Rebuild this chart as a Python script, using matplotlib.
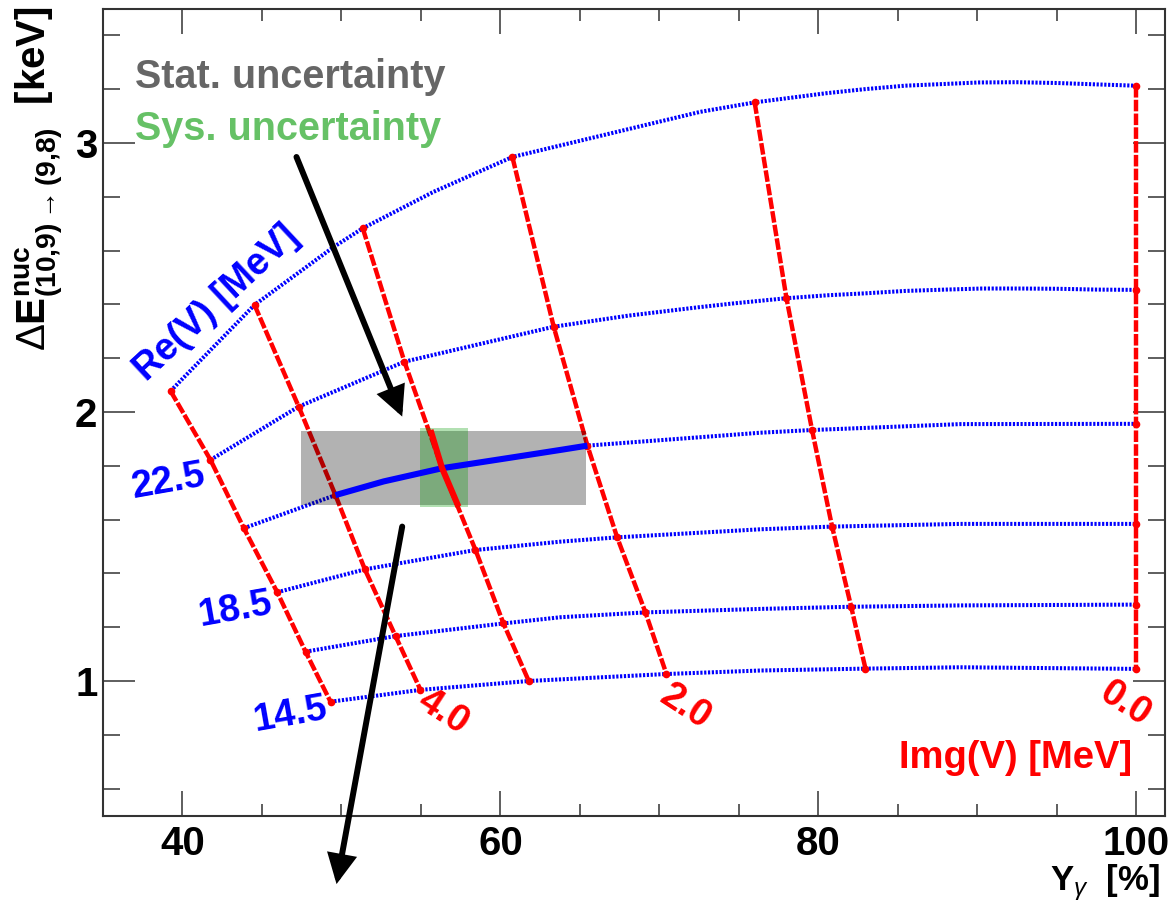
import numpy as np
import matplotlib
matplotlib.use("Agg")
import matplotlib.pyplot as plt
from matplotlib.ticker import MultipleLocator, FixedLocator
from matplotlib.patches import Rectangle, FancyArrowPatch

plt.rcParams['font.family'] = ['Liberation Sans', 'DejaVu Sans']
plt.rcParams['mathtext.fontset'] = 'custom'
plt.rcParams['mathtext.rm'] = 'Liberation Sans'
plt.rcParams['mathtext.it'] = 'Liberation Sans:italic'
plt.rcParams['mathtext.bf'] = 'Liberation Sans:bold'

# ---------------- data ----------------
re_values = [24.5, 22.5, 20.5, 18.5, 16.5, 14.5]          # Re(V) [MeV], one blue curve each
img_values = [5.0, 4.0, 3.0, 2.0, 1.0, 0.0]               # Img(V) [MeV], one red curve each

# grid crossing points: rows = Img value, columns = Re value
grid_x = [
    [39.25, 41.76, 43.86, 45.96, 47.74, 49.31],   # Img 5
    [44.53, 47.31, 49.62, 51.47, 53.40, 54.97],   # Img 4
    [51.34, 53.96, 56.33, 58.43, 60.19, 61.78],   # Img 3
    [60.75, 63.35, 65.47, 67.34, 69.12, 70.44],   # Img 2
    [75.99, 77.99, 79.60, 80.86, 82.06, 82.96],   # Img 1
    [100.0, 100.0, 100.0, 100.0, 100.0, 100.0],   # Img 0
]
grid_y = [
    [2.078, 1.822, 1.568, 1.330, 1.109, 0.923],
    [2.398, 2.020, 1.691, 1.415, 1.167, 0.967],
    [2.683, 2.187, 1.791, 1.487, 1.214, 1.000],
    [2.948, 2.317, 1.875, 1.534, 1.255, 1.026],
    [3.151, 2.423, 1.933, 1.574, 1.276, 1.046],
    [3.213, 2.454, 1.956, 1.584, 1.284, 1.045],
]

# additional points read along the blue (constant Re) curves
re245_x = [49.52, 55.81, 72.58, 80.48, 82.89, 85.44, 88.93, 90.06, 92.45, 95.03, 97.42]
re245_y = [2.614, 2.819, 3.116, 3.185, 3.200, 3.213, 3.222, 3.225, 3.226, 3.223, 3.218]
re225_x = [68.02, 72.40, 74.71, 80.59, 82.90, 85.44, 87.97, 90.28, 92.59, 95.13, 97.55]
re225_y = [2.358, 2.389, 2.404, 2.434, 2.441, 2.450, 2.455, 2.459, 2.459, 2.458, 2.455]
re205_x = [52.66, 61.05, 63.77, 76.35, 88.93]
re205_y = [1.742, 1.834, 1.859, 1.923, 1.955]
re185_x = [63.77, 76.35, 88.93]
re185_y = [1.518, 1.564, 1.584]
re165_x = [63.77, 76.35, 88.93]
re165_y = [1.237, 1.268, 1.281]
re145_x = [63.77, 76.35, 88.93]
re145_y = [1.006, 1.039, 1.051]
extra_x = [re245_x, re225_x, re205_x, re185_x, re165_x, re145_x]
extra_y = [re245_y, re225_y, re205_y, re185_y, re165_y, re145_y]

# best-fit band along Img = 3 (bold red segment)
fit_img_x = [55.60, 56.33, 57.36]
fit_img_y = [1.933, 1.791, 1.648]

# uncertainty boxes
stat_box_x = [47.48, 65.39]
stat_box_y = [1.653, 1.930]
sys_box_x = [54.97, 57.94]
sys_box_y = [1.646, 1.942]

# arrows (start, tip)
arrow1 = [(47.17, 2.948), (53.82, 1.983)]
arrow2 = [(53.82, 1.574), (49.69, 0.245)]

re_labels = ["22.5", "18.5", "14.5"]
re_label_pos = [(39.13, 1.741), (43.33, 1.264), (46.79, 0.874)]
img_labels = ["4.0", "2.0", "0.0"]
img_label_pos = [(56.42, 0.885), (71.64, 0.903), (99.31, 0.914)]

# ---------------- figure ----------------
W, H = 1172, 907
fig = plt.figure(figsize=(W / 100, H / 100), dpi=100)
ax = fig.add_axes([103 / W, 1 - 815.5 / H, (1165 - 103) / W, (815.5 - 8.5) / H])
ax.set_xlim(35, 101.8)
ax.set_ylim(0.5, 3.5)

BLUE = (0, 0, 1)
RED = (1, 0, 0)

gx = np.array(grid_x)
gy = np.array(grid_y)

# blue dotted curves of constant Re
for j, re in enumerate(re_values):
    xs = np.concatenate([gx[:, j], extra_x[j]])
    ys = np.concatenate([gy[:, j], extra_y[j]])
    order = np.argsort(xs)
    ax.plot(xs[order], ys[order], color=BLUE, lw=2.9, linestyle=(0, (0.55, 0.4)),
            zorder=2, dash_capstyle='butt')

# red dashed curves of constant Img
for i, im in enumerate(img_values):
    ax.plot(gx[i], gy[i], color=RED, lw=3.2, linestyle=(0, (2.6, 0.5)), zorder=2.5,
            marker='o', markersize=5.5, markeredgewidth=0, dash_capstyle='butt')

# uncertainty boxes
ax.add_patch(Rectangle((stat_box_x[0], stat_box_y[0]), stat_box_x[1] - stat_box_x[0],
                       stat_box_y[1] - stat_box_y[0], facecolor='black', alpha=0.3,
                       edgecolor='none', zorder=3))
ax.add_patch(Rectangle((sys_box_x[0], sys_box_y[0]), sys_box_x[1] - sys_box_x[0],
                       sys_box_y[1] - sys_box_y[0], facecolor=(0, 0.6, 0), alpha=0.3,
                       edgecolor='none', zorder=4))

# solid blue: Re = 20.5 between Img = 4 and Img = 2
j = re_values.index(20.5)
xs = np.concatenate([gx[:, j], extra_x[j]])
ys = np.concatenate([gy[:, j], extra_y[j]])
order = np.argsort(xs)
xs, ys = xs[order], ys[order]
lo = gx[img_values.index(4.0), j]
hi = gx[img_values.index(2.0), j]
sel = (xs >= lo) & (xs <= hi)
ax.plot(xs[sel], ys[sel], color=BLUE, lw=4.4, zorder=5, solid_capstyle='butt',
        solid_joinstyle='round')

# bold red segment along Img = 3
ax.plot(fit_img_x, fit_img_y, color=RED, lw=4.4, zorder=5, solid_capstyle='butt')

# arrows
for (p0, p1) in (arrow1, arrow2):
    arr = FancyArrowPatch(p0, p1, arrowstyle='-|>,head_length=15,head_width=7.5',
                          mutation_scale=1, lw=4.3, color='black', shrinkA=0, shrinkB=0,
                          zorder=6, clip_on=False, joinstyle='miter')
    ax.add_patch(arr)

# texts
ax.text(37.04, 3.204, "Stat. uncertainty", color=(0, 0, 0, 0.6), fontsize=28.5,
        fontweight='bold', ha='left', va='baseline', zorder=7)
ax.text(37.04, 3.011, "Sys. uncertainty", color=(0, 0.6, 0, 0.6), fontsize=28.5,
        fontweight='bold', ha='left', va='baseline', zorder=7)
ax.text(42.13, 2.404, "Re(V) [MeV]", color=BLUE, fontsize=27, fontweight='bold',
        rotation=43, ha='center', va='center', rotation_mode='anchor', zorder=7)
for lab, (px, py) in zip(re_labels, re_label_pos):
    ax.text(px, py, lab, color=BLUE, fontsize=27.5, fontweight='bold', rotation=10,
            ha='center', va='center', rotation_mode='anchor', zorder=7)
for lab, (px, py) in zip(img_labels, img_label_pos):
    ax.text(px, py, lab, color=RED, fontsize=27.5, fontweight='bold', rotation=-33,
            ha='center', va='center', rotation_mode='anchor', zorder=7)
ax.text(99.75, 0.677, "Img(V) [MeV]", color=RED, fontsize=27.5, fontweight='bold',
        ha='right', va='baseline', zorder=7)

# axes styling
for s in ax.spines.values():
    s.set_linewidth(1.5)
    s.set_color('#333333')
ax.xaxis.set_major_locator(FixedLocator([40, 60, 80, 100]))
ax.xaxis.set_minor_locator(MultipleLocator(5))
ax.yaxis.set_major_locator(FixedLocator([1, 2, 3]))
ax.yaxis.set_minor_locator(MultipleLocator(0.2))
ax.tick_params(axis='x', which='major', direction='in', length=18, width=1.1,
               top=True, labelsize=29, pad=7, colors='#333333', labelcolor='black')
ax.tick_params(axis='x', which='minor', direction='in', length=8.6, width=1.1,
               top=True, colors='#333333')
ax.tick_params(axis='y', which='major', direction='in', length=23, width=1.1,
               right=True, labelsize=29, pad=4, colors='#333333', labelcolor='black')
ax.tick_params(axis='y', which='minor', direction='in', length=12, width=1.1,
               right=True, colors='#333333')
for lbl in ax.get_xticklabels() + ax.get_yticklabels():
    lbl.set_fontweight('bold')

fig.text(1160 / W, 1 - 890 / H, r"Y$_{\gamma}$  [%]", fontsize=25, fontweight='bold',
         ha='right', va='baseline')
fig.text(40 / W, 1 - 6 / H,
         r"$\Delta\mathregular{E}^{\mathregular{nuc}}_{\mathregular{(10{,}9)}\rightarrow\mathregular{(9{,}8)}}$  [keV]",
         fontsize=29, fontweight='bold', rotation=90, ha='center', va='top')

fig.savefig("out.png", dpi=100)
